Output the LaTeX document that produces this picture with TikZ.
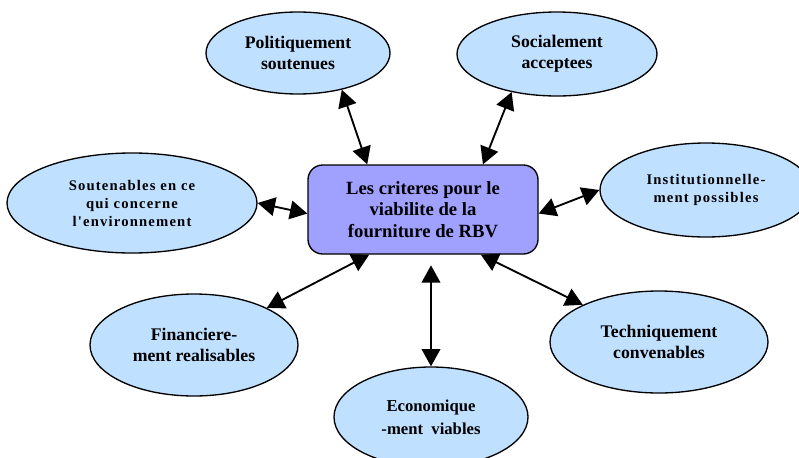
\documentclass[tikz,border=0pt]{standalone}
\usepackage{fontspec}
\setmainfont{Liberation Serif}
\newfontfamily\spacedfont{Liberation Serif}[LetterSpace=8]
\usetikzlibrary{shapes.geometric,arrows.meta}

\definecolor{bubblefill}{RGB}{192,224,255}
\definecolor{corefill}{RGB}{160,160,255}

\tikzset{
    bubble/.style={ellipse, draw, line width=1pt, fill=bubblefill, inner sep=0pt,
        align=center, font=\bfseries\fontsize{13.3pt}{15.8pt}\selectfont},
    spaced/.style={font=\spacedfont\bfseries\fontsize{11pt}{13.5pt}\selectfont},
    core/.style={rectangle, draw, line width=1pt, fill=corefill, rounded corners=11pt,
        minimum width=172.5pt, minimum height=66.75pt, align=center,
        font=\bfseries\fontsize{14pt}{16pt}\selectfont},
    link/.style={{Triangle[length=13pt,width=14pt]}-{Triangle[length=13pt,width=14pt]}, line width=1.4pt}
}

\begin{document}
\begin{tikzpicture}[x=0.75pt, y=-0.75pt]
                    \useasboundingbox (0, 0) rectangle (799, 457);

                    \node[core] (crit) at (423, 209.5) {Les criteres pour le\\viabilite de la\\fourniture de RBV};

                    \node[bubble, minimum width=138pt, minimum height=61.5pt] (pol) at (298, 53) {Politiquement\\soutenues};
                    \node[bubble, minimum width=150pt, minimum height=63pt] (soc) at (557, 54) {Socialement\\acceptees};
                    \node[bubble, spaced, minimum width=159pt, minimum height=70.5pt] (inst) at (706, 190) {Institutionnelle-\\ment possibles};
                    \node[bubble, spaced, minimum width=187.5pt, minimum height=75pt] (sout) at (132, 203) {Soutenables en ce\\qui concerne\\l'environnement};
                    \node[bubble, minimum width=156pt, minimum height=76.5pt] (fin) at (194, 345) {Financiere-\\ment realisables};
                    \node[bubble, minimum width=145.5pt, minimum height=75pt,
                        font=\bfseries\fontsize{12.5pt}{17pt}\selectfont] (eco) at (431, 417) {Economique\\-ment\ \ viables};
                    \node[bubble, minimum width=163.5pt, minimum height=76.5pt] (tech) at (659, 342) {Techniquement\\convenables};

                    \draw[link] (pol.-40) -- (crit.141);
                    \draw[link] (soc.-140) -- (crit.37);
                    \draw[link] (inst.west) -- (crit.-2);
                    \draw[link] (sout.east) -- (crit.182);
                    \draw[link] (fin.27) -- (crit.220);
                    \draw[link, shorten >=8pt] (eco.north) -- (eco.north |- crit.south);
                    \draw[link] (tech.154) -- (crit.-38);
                \end{tikzpicture}
\end{document}
